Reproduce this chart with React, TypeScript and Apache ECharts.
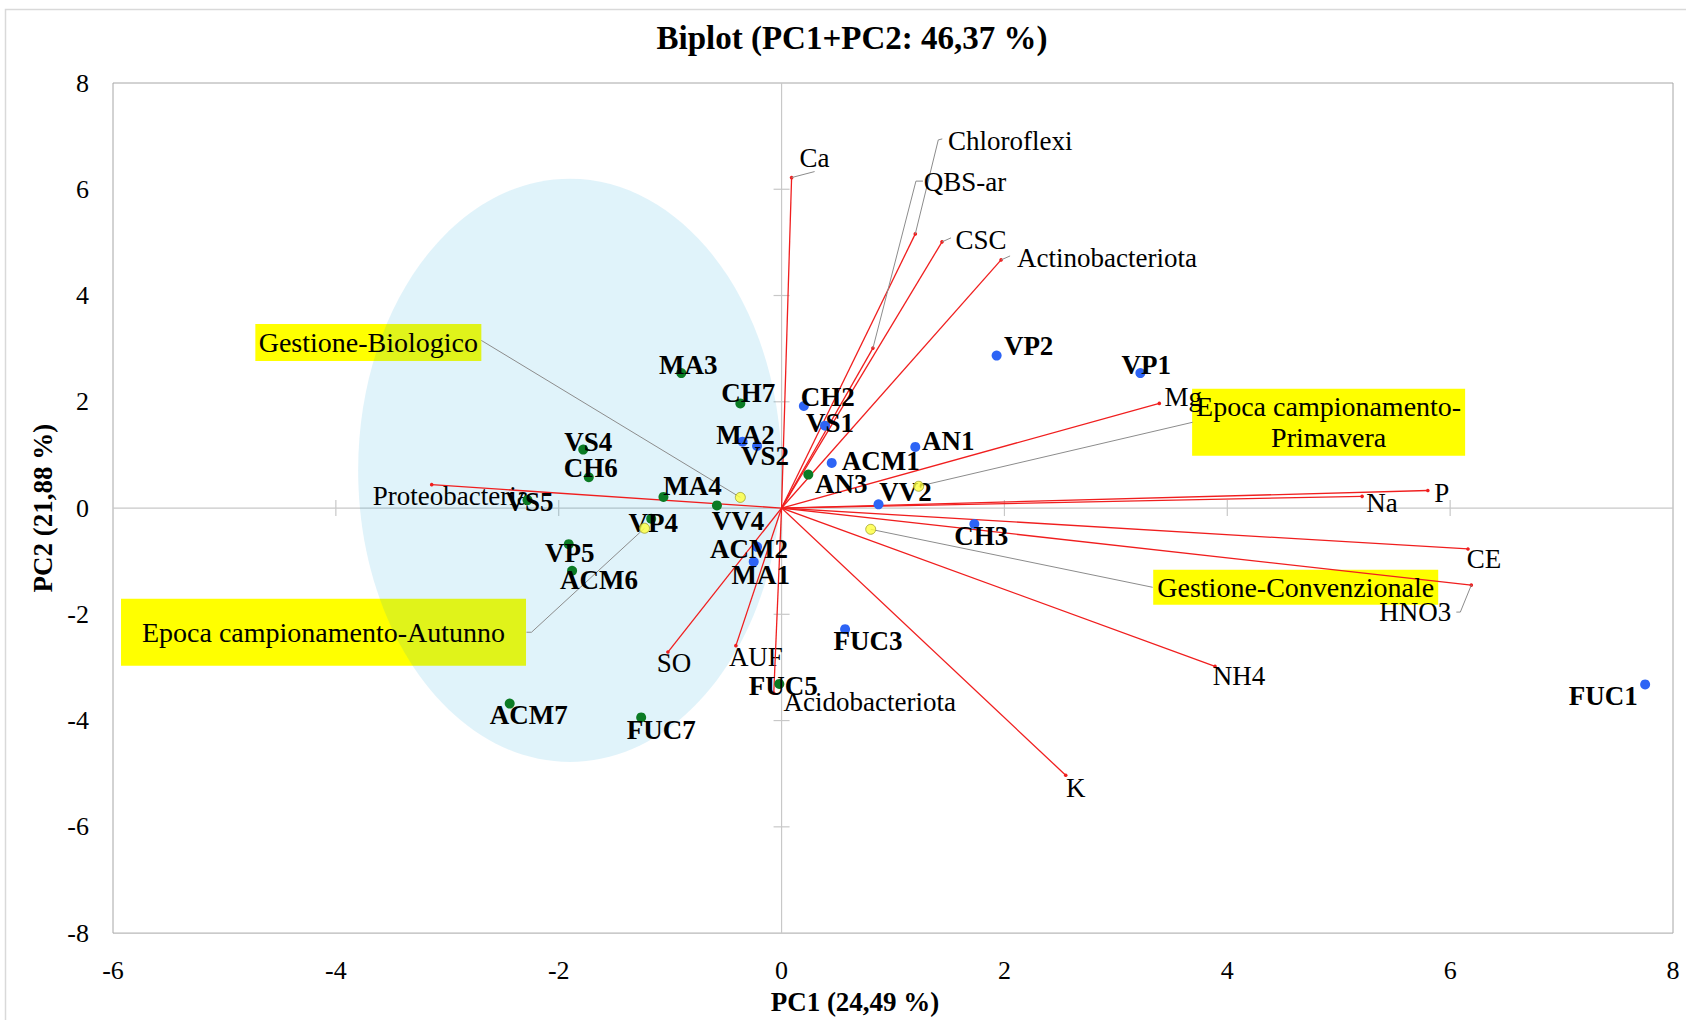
import React, { useEffect, useRef } from "react";
import * as echarts from "echarts";

const FONT = '"Liberation Serif", "Times New Roman", serif';

// Axis ticks
const X_TICKS = [-6, -4, -2, 0, 2, 4, 6, 8];
const Y_TICKS = [-8, -6, -4, -2, 0, 2, 4, 6, 8];

// Observations – group shown in green (Autunno)
const greenNames = ["MA3", "CH7", "VS4", "CH6", "MA4", "VS5", "VV4", "VP4", "VP5", "ACM6", "AN3", "ACM7", "FUC7", "FUC5"];
const greenX = [-0.90, -0.37, -1.78, -1.73, -1.06, -2.28, -0.58, -1.17, -1.91, -1.88, 0.24, -2.44, -1.26, -0.02];
const greenY = [2.54, 1.97, 1.10, 0.58, 0.21, 0.15, 0.05, -0.20, -0.68, -1.18, 0.63, -3.68, -3.94, -3.31];

// Observations – group shown in blue (Primavera)
const blueNames = ["MA2", "VS2", "CH2", "VS1", "ACM1", "AN1", "VV2", "CH3", "VP2", "VP1", "ACM2", "MA1", "FUC3", "FUC1"];
const blueX = [-0.35, -0.22, 0.20, 0.39, 0.45, 1.20, 0.87, 1.73, 1.93, 3.22, -0.22, -0.25, 0.57, 7.75];
const blueY = [1.25, 1.17, 1.92, 1.55, 0.85, 1.15, 0.07, -0.30, 2.87, 2.54, -0.73, -1.01, -2.28, -3.32];

// Variables (loadings)
const varNames = ["Ca", "Chloroflexi", "QBS-ar", "CSC", "Actinobacteriota", "Mg", "P", "Na", "CE", "HNO3", "NH4", "K", "SO", "AUF", "Acidobacteriota", "Proteobacteria"];
const varX = [0.09, 1.20, 0.82, 1.44, 1.97, 3.39, 5.80, 5.21, 6.16, 6.19, 3.89, 2.55, -1.02, -0.41, -0.07, -3.14];
const varY = [6.22, 5.16, 3.01, 5.01, 4.67, 1.97, 0.33, 0.22, -0.77, -1.45, -2.98, -5.03, -2.71, -2.59, -3.48, 0.44];

// Supplementary factor centroids
const factorNames = ["Gestione-Biologico", "Gestione-Convenzionale", "Epoca campionamento-Autunno", "Epoca campionamento-\nPrimavera"];
const factorX = [-0.37, 0.80, -1.23, 1.23];
const factorY = [0.20, -0.40, -0.38, 0.41];

// Confidence ellipse (center x, center y, radius x, radius y)
const ellipseParams = [-1.90, 0.71, 1.90, 5.49];

// ---- presentation (pixel offsets, not data) ----
const greenLabelOffsets: number[][] = [[7, -8], [8, -10], [5, -8], [2, -9], [29, -11], [2, 2], [21, 16], [2, 4], [1, 9], [27, 9], [33, 9], [19, 11], [20, 13], [4, 2]];
const blueLabelOffsets: number[][] = [[3, -7], [8, 10], [24, -9], [5, -3], [49, -2], [33, -6], [27, -12], [7, 12], [32, -10], [6, -8], [-8, 2], [7, 13], [23, 12], [-42, 12]];
const varLabelOffsets: number[][] = [[23, -20], [95, -93], [92, -166], [39, -2], [106, -2], [24, -6], [14, 2], [20, 7], [16, 10], [-56, 27], [24, 10], [10, 13], [6, 11], [20, 11], [96, 9], [19, 11]];
const varLeaders: Record<string, number[][]> = {
  Ca: [[0, 0], [23, -6]],
  Chloroflexi: [[0, 0], [23, -94], [27, -95]],
  "QBS-ar": [[0, 0], [43, -167], [50, -167]],
  CSC: [[0, 0], [9, -4]],
  Actinobacteriota: [[0, 0], [9, -4]],
  HNO3: [[0, 0], [-11, 27], [-15, 27]],
};
// box: [center dx, center dy, width, height]
const factorBoxes: number[][] = [[-372, -155, 226, 37], [425, 58, 285, 35], [-321, 104, 405, 67], [410, -64, 273, 67]];
const factorLeaders: number[][][] = [
  [[0, 0], [-259, -157]],
  [[0, 0], [282, 58]],
  [[0, 0], [-113, 104], [-118, 104]],
  [[0, 0], [274, -64]],
];

const GREEN = "#0b7b24";
const BLUE = "#2d64f5";
const RED = "#f01e1e";
const GRAY = "#8c8c8c";
const AXIS_GRAY = "#c8c8c8";

function textStyle(text: string, x: number, y: number, size: number, weight: string, align = "center") {
  return {
    text,
    x,
    y,
    fill: "#000",
    fontFamily: FONT,
    fontSize: size,
    fontWeight: weight,
    align,
    verticalAlign: "middle",
    textAlign: align,
    textVerticalAlign: "middle",
    lineHeight: 31,
  };
}

function buildOption() {
  const obsSeries = (names: string[], xs: number[], ys: number[], offs: number[][], color: string) => ({
    type: "scatter",
    z: 6,
    symbolSize: 10,
    itemStyle: { color, opacity: 1 },
    label: {
      show: true,
      position: "inside",
      formatter: "{b}",
      fontFamily: FONT,
      fontSize: 27,
      fontWeight: "bold",
      color: "#000",
    },
    data: names.map((n, i) => ({ name: n, value: [xs[i], ys[i]], label: { offset: offs[i] } })),
  });

  return {
    animation: false,
    backgroundColor: "#ffffff",
    title: {
      text: "Biplot (PC1+PC2: 46,37 %)",
      left: 847,
      top: 16,
      textAlign: "center",
      textStyle: { fontFamily: FONT, fontSize: 33, fontWeight: "bold", color: "#000" },
    },
    graphic: [
      {
        type: "rect",
        left: 3,
        top: 7,
        shape: { width: 1700, height: 1030 },
        style: { fill: "none", stroke: "#d9d9d9", lineWidth: 1.5 },
        silent: true,
      },
    ],
    grid: { left: 113, right: 13, top: 83, bottom: 85, show: true, borderColor: "#a6a6a6", borderWidth: 1 },
    xAxis: {
      type: "value",
      min: X_TICKS[0],
      max: X_TICKS[X_TICKS.length - 1],
      interval: 2,
      axisLine: { show: false },
      axisTick: { show: false },
      splitLine: { show: false },
      axisLabel: { fontFamily: FONT, fontSize: 26, color: "#000", margin: 24 },
      name: "PC1 (24,49 %)",
      nameLocation: "middle",
      nameGap: 54,
      nameTextStyle: { fontFamily: FONT, fontSize: 27, fontWeight: "bold", color: "#000", padding: [0, 76, 0, 0] },
    },
    yAxis: {
      type: "value",
      min: Y_TICKS[0],
      max: Y_TICKS[Y_TICKS.length - 1],
      interval: 2,
      axisLine: { show: false },
      axisTick: { show: false },
      splitLine: { show: false },
      axisLabel: { fontFamily: FONT, fontSize: 26, color: "#000", margin: 24 },
      name: "PC2 (21,88 %)",
      nameLocation: "middle",
      nameGap: 46,
      nameTextStyle: { fontFamily: FONT, fontSize: 27, fontWeight: "bold", color: "#000" },
    },
    series: [
      // zero axes with crossing ticks
      {
        type: "custom",
        z: 1,
        silent: true,
        data: [[0, 0]],
        renderItem: (_p: any, api: any) => {
          const x0 = X_TICKS[0], x1 = X_TICKS[X_TICKS.length - 1];
          const y0 = Y_TICKS[0], y1 = Y_TICKS[Y_TICKS.length - 1];
          const a = api.coord([x0, 0]), b = api.coord([x1, 0]);
          const c = api.coord([0, y0]), d = api.coord([0, y1]);
          const st = { stroke: AXIS_GRAY, lineWidth: 1.2 };
          const children: any[] = [
            { type: "line", shape: { x1: a[0], y1: a[1], x2: b[0], y2: b[1] }, style: st },
            { type: "line", shape: { x1: c[0], y1: c[1], x2: d[0], y2: d[1] }, style: st },
          ];
          X_TICKS.forEach((v) => {
            if (v === x0 || v === x1 || v === 0) return;
            const p = api.coord([v, 0]);
            children.push({ type: "line", shape: { x1: p[0], y1: p[1] - 8, x2: p[0], y2: p[1] + 8 }, style: st });
          });
          Y_TICKS.forEach((v) => {
            if (v === y0 || v === y1 || v === 0) return;
            const p = api.coord([0, v]);
            children.push({ type: "line", shape: { x1: p[0] - 8, y1: p[1], x2: p[0] + 8, y2: p[1] }, style: st });
          });
          return { type: "group", children };
        },
      },
      // yellow boxes of factor labels (under the ellipse)
      {
        type: "custom",
        z: 2,
        silent: true,
        data: factorX.map((x, i) => [x, factorY[i]]),
        renderItem: (params: any, api: any) => {
          const i = params.dataIndex;
          const p = api.coord([api.value(0), api.value(1)]);
          const b = factorBoxes[i];
          return {
            type: "rect",
            shape: { x: p[0] + b[0] - b[2] / 2, y: p[1] + b[1] - b[3] / 2, width: b[2], height: b[3] },
            style: { fill: "#ffff00" },
          };
        },
      },
      // ellipse
      {
        type: "custom",
        z: 3,
        silent: true,
        data: [ellipseParams],
        renderItem: (_p: any, api: any) => {
          const c = api.coord([api.value(0), api.value(1)]);
          const s = api.size([api.value(2), api.value(3)]);
          return {
            type: "ellipse",
            shape: { cx: c[0], cy: c[1], rx: s[0], ry: s[1] },
            style: { fill: "rgba(0,155,217,0.12)" },
          };
        },
      },
      // variable vectors
      {
        type: "custom",
        z: 4,
        silent: true,
        data: varX.map((x, i) => [x, varY[i]]),
        renderItem: (params: any, api: any) => {
          const i = params.dataIndex;
          const o = api.coord([0, 0]);
          const p = api.coord([api.value(0), api.value(1)]);
          const name = varNames[i];
          const off = varLabelOffsets[i];
          const children: any[] = [
            { type: "line", shape: { x1: o[0], y1: o[1], x2: p[0], y2: p[1] }, style: { stroke: RED, lineWidth: 1.3 } },
            { type: "circle", shape: { cx: p[0], cy: p[1], r: 1.8 }, style: { fill: RED } },
          ];
          const ld = varLeaders[name];
          if (ld) {
            children.push({
              type: "polyline",
              shape: { points: ld.map((q) => [p[0] + q[0], p[1] + q[1]]) },
              style: { stroke: GRAY, lineWidth: 1, fill: "none" },
            });
          }
          children.push({ type: "text", style: textStyle(name, p[0] + off[0], p[1] + off[1], 27, "normal") });
          return { type: "group", children };
        },
      },
      // factor leaders and texts (above the ellipse)
      {
        type: "custom",
        z: 5,
        silent: true,
        data: factorX.map((x, i) => [x, factorY[i]]),
        renderItem: (params: any, api: any) => {
          const i = params.dataIndex;
          const p = api.coord([api.value(0), api.value(1)]);
          const b = factorBoxes[i];
          return {
            type: "group",
            children: [
              {
                type: "polyline",
                shape: { points: factorLeaders[i].map((q) => [p[0] + q[0], p[1] + q[1]]) },
                style: { stroke: GRAY, lineWidth: 1, fill: "none" },
              },
              { type: "text", style: textStyle(factorNames[i], p[0] + b[0], p[1] + b[1], 28, "normal") },
            ],
          };
        },
      },
      obsSeries(greenNames, greenX, greenY, greenLabelOffsets, GREEN),
      obsSeries(blueNames, blueX, blueY, blueLabelOffsets, BLUE),
      // centroids
      {
        type: "scatter",
        z: 7,
        symbolSize: 10,
        itemStyle: { color: "#ffff3c", borderColor: "#a3a32a", borderWidth: 1 },
        data: factorX.map((x, i) => ({ name: factorNames[i], value: [x, factorY[i]] })),
      },
    ],
  };
}

export default function App() {
  const ref = useRef<HTMLDivElement>(null);
  useEffect(() => {
    if (!ref.current) return;
    const chart = echarts.init(ref.current, null, { renderer: "svg" });
    chart.setOption(buildOption() as any);
    return () => chart.dispose();
  }, []);
  return (
    <div
      ref={ref}
      style={{ position: "absolute", left: 0, top: 0, width: 1686, height: 1020, background: "#fff" }}
    />
  );
}
